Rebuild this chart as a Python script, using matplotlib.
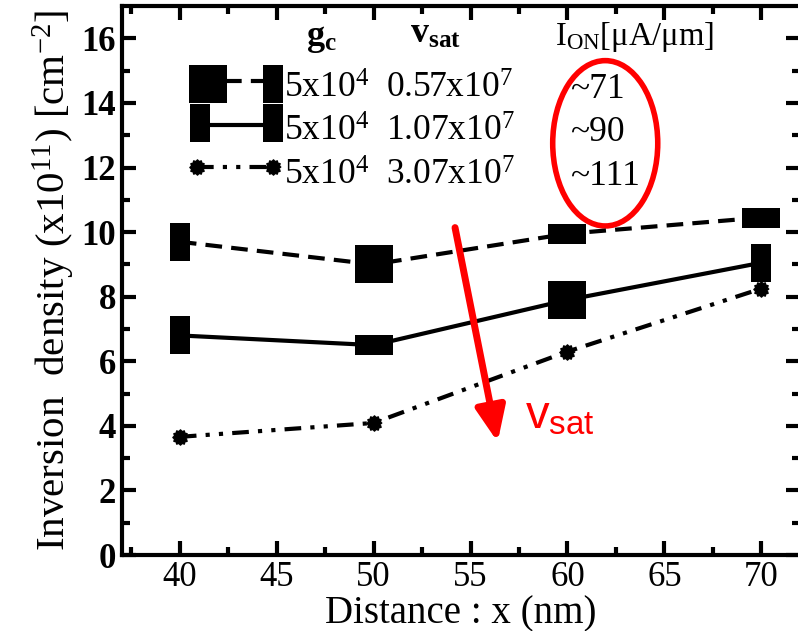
import matplotlib
matplotlib.use('Agg')
import numpy as np
import matplotlib.pyplot as plt
from matplotlib.path import Path
from matplotlib.patches import Ellipse
from matplotlib.lines import Line2D

plt.rcParams['font.family'] = ['Liberation Serif', 'DejaVu Serif']
plt.rcParams['mathtext.fontset'] = 'custom'
plt.rcParams['mathtext.rm'] = 'Liberation Serif'
plt.rcParams['mathtext.it'] = 'Liberation Serif:italic'
plt.rcParams['mathtext.bf'] = 'Liberation Serif:bold'
plt.rcParams['mathtext.sf'] = 'Liberation Sans'

# data
distance = [40, 50, 60, 70]
n_vsat_057 = [9.7, 9.0, 9.95, 10.45]
n_vsat_107 = [6.8, 6.5, 7.9, 9.05]
n_vsat_307 = [3.66, 4.09, 6.3, 8.25]
gc_labels = ['5x10$^4$', '5x10$^4$', '5x10$^4$']
vsat_labels = ['0.57x10$^7$', '1.07x10$^7$', '3.07x10$^7$']
ion_labels = ['~71', '~90', '~111']


def rect(w, h):
    return Path([(-w / 2, -h / 2), (w / 2, -h / 2), (w / 2, h / 2), (-w / 2, h / 2), (0, 0)],
                [Path.MOVETO, Path.LINETO, Path.LINETO, Path.LINETO, Path.CLOSEPOLY])


TALL = rect(0.5, 1.0)
SQUARE = rect(1.0, 1.0)
WIDE = rect(1.0, 0.5)
ang = np.linspace(0, 2 * np.pi, 25)[:-1]
rad = np.where(np.arange(24) % 2 == 0, 1.0, 0.8)
BURST = Path(np.column_stack([rad * np.cos(ang), rad * np.sin(ang)]), closed=False)

# odd marker shapes in the original figure
shapes_057 = [TALL, SQUARE, WIDE, WIDE]
shapes_107 = [TALL, WIDE, SQUARE, TALL]
MS = 27.5

fig = plt.figure(figsize=(7.98, 6.31), dpi=100)
ax = fig.add_axes([0.1525, 0.1204, 0.85, 0.870])

lw = 3
ax.plot(distance, n_vsat_057, color='black', lw=lw, dashes=(4, 2.2))
ax.plot(distance, n_vsat_107, color='black', lw=lw)
ax.plot(distance, n_vsat_307, color='black', lw=lw, dashes=(4, 2.2, 1, 2.2, 1, 2.2),
        marker=BURST, ms=11, mec='black', mfc='black')
for xi, yi, m in zip(distance, n_vsat_057, shapes_057):
    ax.plot(xi, yi, marker=m, ms=MS, mew=0, color='black', clip_on=False)
for xi, yi, m in zip(distance, n_vsat_107, shapes_107):
    ax.plot(xi, yi, marker=m, ms=MS, mew=0, color='black', clip_on=False)

ax.set_xlim(37, 72)
ax.set_ylim(0, 17)
ax.set_xticks(np.arange(40, 71, 5))
ax.set_xticks(np.arange(37.5, 72, 2.5), minor=True)
ax.set_yticks(np.arange(0, 17, 2))
ax.set_yticks(np.arange(0, 17, 1), minor=True)
ax.tick_params(which='both', direction='in', top=True, right=True, width=3)
ax.tick_params(which='major', length=10)
ax.tick_params(which='minor', length=5.5)
ax.tick_params(axis='x', labelsize=25, pad=4)
ax.tick_params(axis='y', labelsize=25, pad=4)
for t in ax.get_yticklabels():
    t.set_fontweight('bold')
for s in ax.spines.values():
    s.set_linewidth(3)

ax.set_xlabel('Distance : x (nm)', fontsize=28, labelpad=1)
ax.set_ylabel('Inversion  density (x10$^{11}$) [cm$^{-2}$]', fontsize=29.5, labelpad=3)

# legend drawn by hand in axes fraction
tr = ax.transAxes
def fx(px):
    return (px - 121.7) / (800 - 121.7)
def fy(py):
    return (555 - py) / (555 - 6)

ax.text(fx(306), fy(45), r'$\mathbf{g}_{\mathbf{c}}$', transform=tr, fontsize=26, va='baseline')
ax.text(fx(410), fy(43), r'$\mathbf{v}_{\mathbf{sat}}$', transform=tr, fontsize=26, va='baseline')
ax.text(fx(555), fy(45), 'I$_{\\mathrm{ON}}$[\u03bcA/\u03bcm]', transform=tr, fontsize=23.5, va='baseline')

rows_y = [98, 141, 185]
for yy, g, v, i in zip(rows_y, gc_labels, vsat_labels, ion_labels):
    ax.text(fx(284), fy(yy), g, transform=tr, fontsize=25.5, va='baseline')
    ax.text(fx(386), fy(yy), v, transform=tr, fontsize=25.5, va='baseline')
    ax.text(fx(570), fy(yy), i, transform=tr, fontsize=25.5, va='baseline')

ax.add_line(Line2D([fx(225), fx(265)], [fy(81), fy(81)], transform=tr, color='black', lw=lw, dashes=(4, 2.2)))
ax.add_line(Line2D([fx(205), fx(265)], [fy(125), fy(125)], transform=tr, color='black', lw=lw))
ax.add_line(Line2D([fx(197), fx(273)], [fy(167), fy(167)], transform=tr, color='black', lw=lw,
                   dashes=(4, 2.2, 1, 2.2, 1, 2.2)))
ax.add_line(Line2D([fx(208)], [fy(84)], transform=tr, marker=SQUARE, ms=MS, mew=0, color='black'))
ax.add_line(Line2D([fx(200)], [fy(123)], transform=tr, marker=TALL, ms=MS, mew=0, color='black'))
ax.add_line(Line2D([fx(273), fx(273)], [fy(84), fy(123)], transform=tr, ls='none', marker=TALL, ms=MS,
                   mew=0, color='black'))
ax.add_line(Line2D([fx(197), fx(273)], [fy(167), fy(167)], transform=tr, ls='none', marker=BURST, ms=11,
                   color='black'))

# red annotations
ax.add_patch(Ellipse((61.95, 12.75), 5.42, 5.12, fill=False, ec='red', lw=4))
ax.annotate('', xy=(56.4, 3.5), xytext=(54.2, 10.14),
            arrowprops=dict(arrowstyle='-|>,head_length=0.7,head_width=0.3', color='red', lw=5,
                            mutation_scale=30, shrinkA=0, shrinkB=0))
ax.text(57.8, 3.9, r'$\mathsf{v}_{\mathsf{sat}}$', color='red', fontsize=34, va='baseline')

fig.savefig('out.png', dpi=100)
